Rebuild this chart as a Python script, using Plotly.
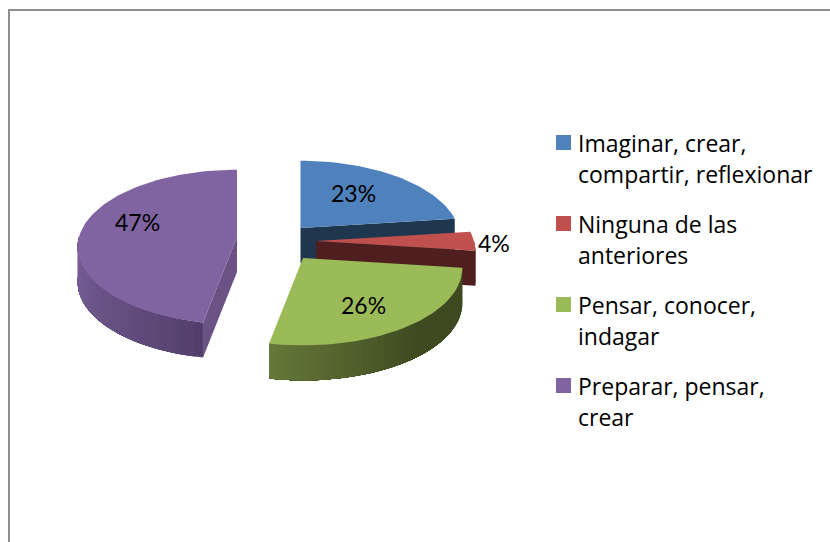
import math
import plotly.graph_objects as go

# Data
categories = ["Imaginar, crear,<br>compartir, reflexionar", "Ninguna de las<br>anteriores",
              "Pensar, conocer,<br>indagar", "Preparar, pensar,<br>crear"]
values = [23, 4, 26, 47]
labels = ["23%", "4%", "26%", "47%"]

# Style
top_colors = ["#4f81bd", "#c0504d", "#9bbb59", "#8064a2"]
cut_colors = ["#1f364f", "#4e1f1e", "#3f4a20", "#6a5284"]
side_stops = [None, ("#4e1f1e", "#4e1f1e"), ("#3f4a20", "#667a3a"), ("#523e6b", "#7a6299")]
apex = [(300.5, 228), (316, 241), (303, 258), (237, 237)]
label_pos = [(353, 193), (494, 243), (363, 305), (137, 222)]
RX, RY, K, DEPTH = 158, 76, 0.13, 35
LABEL_FONT = "Lato"
LEGEND_FONT = "Open Sans"
LABEL_FS = 23
LEGEND_FS = 23


def project(ax, ay, deg):
    t = math.radians(deg)
    w = 1 + K * math.cos(t)
    return ax + RX * math.sin(t) / w, ay - RY * math.cos(t) / w


def mix(c1, c2, f):
    a = [int(c1[i:i + 2], 16) for i in (1, 3, 5)]
    b = [int(c2[i:i + 2], 16) for i in (1, 3, 5)]
    return "#" + "".join(f"{round(x + (y - x) * f):02x}" for x, y in zip(a, b))


fig = go.Figure()


def poly(pts, color, name):
    xs = [p[0] for p in pts] + [pts[0][0]]
    ys = [p[1] for p in pts] + [pts[0][1]]
    fig.add_trace(go.Scatter(x=xs, y=ys, mode="lines", fill="toself", fillcolor=color,
                             line=dict(color=color, width=0), name=name,
                             showlegend=False, hoverinfo="skip"))


total = sum(values)
spans = []
acc = 0
for v in values:
    spans.append((acc * 360 / total, (acc + v) * 360 / total))
    acc += v


def wall(ax, ay, d0, d1):
    n = max(2, int(abs(d1 - d0) / 2))
    top = [project(ax, ay, d0 + (d1 - d0) * s / n) for s in range(n + 1)]
    return top + [(x, y + DEPTH) for x, y in reversed(top)]


for i, cat in enumerate(categories):
    a0, a1 = spans[i]
    ax, ay = apex[i]
    name = cat.replace("<br>", " ")
    # cut faces
    if i in (0, 1, 3):
        end = a0 if i == 3 else a1
        p = project(ax, ay, end)
        poly([(ax, ay), p, (p[0], p[1] + DEPTH), (ax, ay + DEPTH)], cut_colors[i], name)
    # outer wall, front half only: painted over itself so no seams show
    if side_stops[i]:
        lo, hi = max(a0, 90), min(a1, 270)
        n = max(2, int((hi - lo) / 2.5))
        for s in range(n):
            d0 = lo + (hi - lo) * s / n
            f = s / n
            if i == 2:
                f = max(0, (f - 0.45) / 0.55)
            elif i == 3:
                f = f ** 0.8
            poly(wall(ax, ay, d0, hi), mix(side_stops[i][0], side_stops[i][1], f), name)
    # top face
    m = max(2, int((a1 - a0) / 2))
    arc = [project(ax, ay, a0 + (a1 - a0) * s / m) for s in range(m + 1)]
    poly([(ax, ay)] + arc, top_colors[i], name)

ann = []
for txt, (x, y) in zip(labels, label_pos):
    ann.append(dict(x=x, y=y, text=txt, showarrow=False, xanchor="center", yanchor="middle",
                    font=dict(family=LABEL_FONT, size=LABEL_FS, color="#000000")))

shapes = [
    dict(type="line", x0=9, x1=9, y0=10, y1=542, line=dict(color="#8e8e8e", width=2)),
    dict(type="line", x0=8, x1=830, y0=10, y1=10, line=dict(color="#8e8e8e", width=2)),
]
LEG_Y0, LEG_STEP, LINE_STEP = 142.5, 81, 31.5
for i, cat in enumerate(categories):
    y = LEG_Y0 + i * LEG_STEP
    shapes.append(dict(type="rect", x0=556, x1=571, y0=y - 7.5, y1=y + 7.5,
                       fillcolor=top_colors[i], line=dict(width=0)))
    for j, part in enumerate(cat.split("<br>")):
        ann.append(dict(x=576, y=y + j * LINE_STEP, text=part, showarrow=False, xanchor="left",
                        yanchor="middle", font=dict(family=LEGEND_FONT, size=LEGEND_FS, color="#000000")))

fig.update_layout(
    width=830, height=542, margin=dict(l=0, r=0, t=0, b=0, pad=0),
    paper_bgcolor="#ffffff", plot_bgcolor="#ffffff", showlegend=False,
    xaxis=dict(range=[0, 830], visible=False, fixedrange=True),
    yaxis=dict(range=[542, 0], visible=False, fixedrange=True),
    annotations=ann, shapes=shapes,
)
fig.write_html("out.html", config={"displayModeBar": False},
               post_script="document.body.style.margin='0';document.body.style.overflow='hidden';")
